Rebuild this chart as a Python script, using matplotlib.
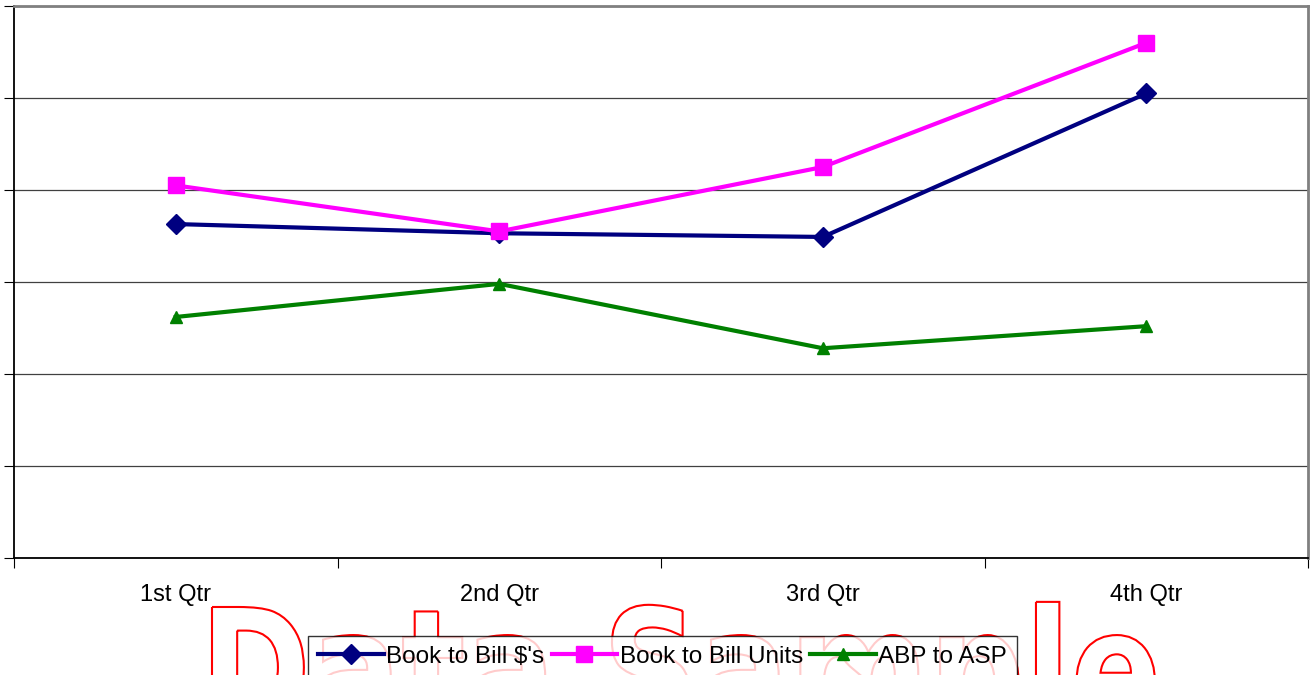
import matplotlib.pyplot as plt
from matplotlib.textpath import TextPath
from matplotlib.patches import PathPatch
from matplotlib.font_manager import FontProperties
from matplotlib.transforms import Affine2D, IdentityTransform

quarters = ['1st Qtr', '2nd Qtr', '3rd Qtr', '4th Qtr']
bill_dollars = [3.63, 3.53, 3.49, 5.05]
bill_units = [4.05, 3.55, 4.25, 5.6]
abp_asp = [2.62, 2.98, 2.28, 2.52]

plt.rcParams['font.family'] = ['Liberation Sans', 'DejaVu Sans']

fig = plt.figure(figsize=(13.12, 6.75), dpi=100)
ax = fig.add_axes([0.0107, 0.1733, 0.9863, 0.8178])

x = range(len(quarters))
ax.plot(x, bill_dollars, color='#000080', lw=3, marker='D', ms=10, label="Book to Bill $'s", zorder=3)
ax.plot(x, bill_units, color='#FF00FF', lw=3, marker='s', ms=11, label='Book to Bill Units', zorder=3)
ax.plot(x, abp_asp, color='#008000', lw=3, marker='^', ms=9, label='ABP to ASP', zorder=3)

ax.set_xlim(-0.5, 3.5)
ax.set_ylim(0, 6)
ax.set_yticks(range(0, 7))
ax.set_yticklabels([])
ax.yaxis.grid(True, color='#404040', lw=0.9)
ax.set_axisbelow(True)

ax.set_xticks([-0.5, 0.5, 1.5, 2.5, 3.5])
ax.set_xticklabels([])
ax.set_xticks(list(x), minor=True)
ax.set_xticklabels(quarters, minor=True, fontsize=17)
ax.tick_params(axis='x', which='minor', length=0, pad=19)
ax.tick_params(axis='x', which='major', length=7, direction='out', color='black')
ax.tick_params(axis='y', length=7, direction='out', color='black')

ax.spines['left'].set_color('black')
ax.spines['bottom'].set_color('black')
ax.spines['left'].set_linewidth(1.3)
ax.spines['bottom'].set_linewidth(1.3)
for side in ['top', 'right']:
    ax.spines[side].set_color('#808080')
    ax.spines[side].set_linewidth(2)

# watermark, squeezed horizontally to look like a condensed bold face
wm = TextPath((0, 0), 'Data Sample', size=1,
              prop=FontProperties(family='DejaVu Sans', weight='bold'))
ext = wm.get_extents()
sy = 121 / 0.729
sx = 943 / ext.width
wm_tr = Affine2D().translate(-ext.x0, 0).scale(sx, sy).translate(212, -53)
fig.patches.append(PathPatch(wm_tr.transform_path(wm), transform=IdentityTransform(),
                             facecolor='none', edgecolor='red', lw=1.5, zorder=1))

leg = fig.legend(loc='upper left', bbox_to_anchor=(0.235, 0.058), ncol=3,
                 fontsize=17.5, frameon=True, fancybox=False, edgecolor='black',
                 handlelength=2.7, handletextpad=0.1, columnspacing=0.3,
                 borderpad=0.4, borderaxespad=0)
leg.get_frame().set_linewidth(1)
leg.set_zorder(10)

fig.savefig('out.png', dpi=100)
